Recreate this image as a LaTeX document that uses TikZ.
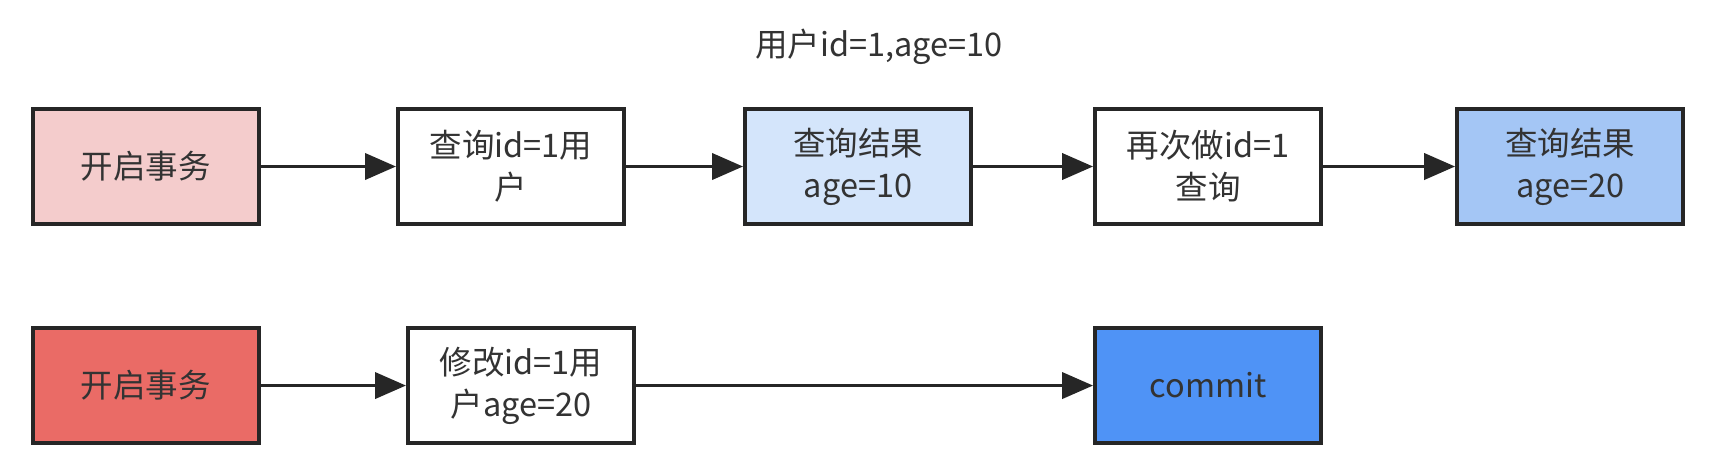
\documentclass[tikz,border=0pt]{standalone}
\usepackage{fontspec}
\setmainfont{Noto Sans CJK SC}
\usetikzlibrary{positioning, arrows.meta}

\definecolor{boxline}{HTML}{262626}
\definecolor{txt}{HTML}{333333}
\definecolor{startpink}{HTML}{F4CCCC}
\definecolor{startred}{HTML}{EA6B66}
\definecolor{resultlight}{HTML}{D4E5FB}
\definecolor{resultblue}{HTML}{A4C6F5}
\definecolor{commitblue}{HTML}{4F93F6}

\tikzset{
  box/.style={draw=boxline, line width=2.3pt, minimum width=4.52cm, minimum height=2.3cm,
    inner sep=2pt, align=center, text=txt, font=\fontsize{18.5}{24}\selectfont},
  flow/.style={draw=boxline, line width=2.2pt, -{Triangle[length=0.62cm,width=0.52cm]}},
}

\begin{document}
\begin{tikzpicture}
    \useasboundingbox (0,0) rectangle (34.28,-9.2);
    \fill[white] (0,0) rectangle (34.28,-9.2);

    % first transaction
    \node[box, fill=startpink] (A1) at (2.92,-3.33) {开启事务};
    \node[box] [right=2.7cm of A1] (A2) {查询id=1用\\户};
    \node[box, fill=resultlight] [right=2.34cm of A2] (A3) {查询结果\\age=10};
    \node[box] [right=2.4cm of A3] (A4) {再次做id=1\\查询};
    \node[box, fill=resultblue] [right=2.64cm of A4] (A5) {查询结果\\age=20};
    \node[text=txt, font=\fontsize{18.5}{24}\selectfont] (T) at (17.58,-0.94) {用户id=1,age=10};

    % second transaction
    \node[box, fill=startred] [below=2cm of A1] (B1) {开启事务};
    \node[box] [right=2.9cm of B1] (B2) {修改id=1用\\户age=20};
    \node[box, fill=commitblue] [below=2cm of A4] (B3) {commit};

    \draw[flow] (A1) -- (A2);
    \draw[flow] (A2) -- (A3);
    \draw[flow] (A3) -- (A4);
    \draw[flow] (A4) -- (A5);
    \draw[flow] (B1) -- (B2);
    \draw[flow] (B2) -- (B3);
\end{tikzpicture}
\end{document}
